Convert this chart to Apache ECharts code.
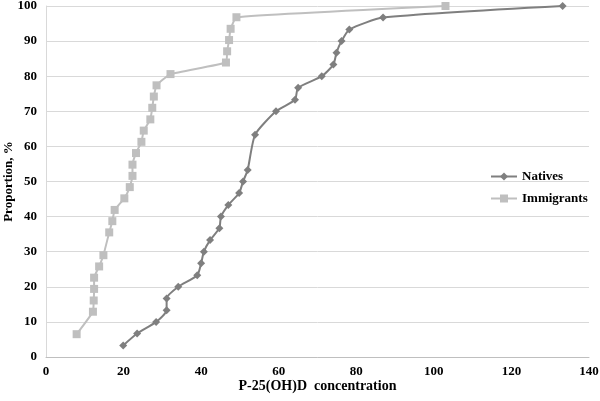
<!DOCTYPE html>
<html>
<head>
<meta charset="UTF-8">
<title>P-25(OH)D</title>
<script src="https://cdn.jsdelivr.net/npm/echarts@6/dist/echarts.min.js"></script>
<style>
  body { margin: 0; background: #fff; }
  #main { width: 600px; height: 401px; }
</style>
</head>
<body>
<div id="main"></div>
<script>
// Natives: concentration (x) and cumulative proportion (y)
var nativesX = [19.9, 23.5, 28.4, 31.1, 31.1, 34.1, 39.0, 40.0, 40.7, 42.3, 44.7, 45.1, 47.0, 49.8, 50.8, 52.0, 53.9, 59.3, 64.2, 65.0, 71.1, 74.1, 74.9, 76.2, 78.2, 86.9, 133.2];
var nativesY = [3.3, 6.7, 10.0, 13.3, 16.7, 20.0, 23.3, 26.7, 30.0, 33.3, 36.7, 40.0, 43.3, 46.7, 50.0, 53.3, 63.3, 70.0, 73.3, 76.7, 80.0, 83.3, 86.7, 90.0, 93.3, 96.7, 100];

// Immigrants
var immigrantsX = [7.9, 12.1, 12.3, 12.4, 12.4, 13.7, 14.8, 16.3, 17.1, 17.7, 20.2, 21.6, 22.3, 22.3, 23.2, 24.6, 25.2, 26.9, 27.4, 27.8, 28.5, 32.1, 46.4, 46.7, 47.2, 47.6, 49.1, 103.0];
var immigrantsY = [6.5, 12.9, 16.1, 19.4, 22.6, 25.8, 29.0, 35.5, 38.7, 41.9, 45.2, 48.4, 51.6, 54.8, 58.1, 61.3, 64.5, 67.7, 71.0, 74.2, 77.4, 80.6, 83.9, 87.1, 90.3, 93.5, 96.8, 100];

function pairs(xs, ys) {
  var out = [];
  for (var i = 0; i < xs.length; i++) out.push([xs[i], ys[i]]);
  return out;
}

var font = 'Liberation Serif';
var chart = echarts.init(document.getElementById('main'));

chart.setOption({
  animation: false,
  grid: { left: 46, right: 11, top: 6, bottom: 44, outerBoundsMode: 'none', containLabel: false },
  legend: {
    orient: 'vertical',
    left: 485,
    top: 165,
    itemGap: 9,
    itemWidth: 26,
    itemHeight: 10,
    textStyle: { fontFamily: font, fontWeight: 'bold', fontSize: 13, color: '#000' },
    data: ['Natives', 'Immigrants']
  },
  xAxis: {
    type: 'value',
    min: 0, max: 140, interval: 20,
    name: 'P-25(OH)D  concentration',
    nameLocation: 'middle',
    nameGap: 22,
    nameMoveOverlap: false,
    nameTextStyle: { fontFamily: font, fontWeight: 'bold', fontSize: 14, color: '#000' },
    axisLine: { lineStyle: { color: '#bfbfbf' } },
    axisTick: { show: false },
    splitLine: { show: false },
    axisLabel: { fontFamily: font, fontWeight: 'bold', fontSize: 13, color: '#000', margin: 8 }
  },
  yAxis: {
    type: 'value',
    min: 0, max: 100, interval: 10,
    name: 'Proportion, %',
    nameLocation: 'middle',
    nameGap: 31,
    nameMoveOverlap: false,
    nameTextStyle: { fontFamily: font, fontWeight: 'bold', fontSize: 13, color: '#000' },
    axisLine: { show: true, lineStyle: { color: '#d9d9d9' } },
    axisTick: { show: false },
    splitLine: { lineStyle: { color: '#d9d9d9' } },
    axisLabel: { fontFamily: font, fontWeight: 'bold', fontSize: 13, color: '#000', margin: 9 }
  },
  series: [
    {
      name: 'Natives',
      type: 'line',
      data: pairs(nativesX, nativesY),
      smooth: 0.2,
      symbol: 'diamond',
      symbolSize: 8,
      color: '#7f7f7f',
      lineStyle: { width: 2, color: '#7f7f7f' },
      itemStyle: { color: '#7f7f7f' }
    },
    {
      name: 'Immigrants',
      type: 'line',
      data: pairs(immigrantsX, immigrantsY),
      smooth: 0.12,
      symbol: 'rect',
      symbolSize: 8,
      color: '#bfbfbf',
      lineStyle: { width: 2, color: '#bfbfbf' },
      itemStyle: { color: '#bfbfbf' }
    }
  ]
});
</script>
</body>
</html>
